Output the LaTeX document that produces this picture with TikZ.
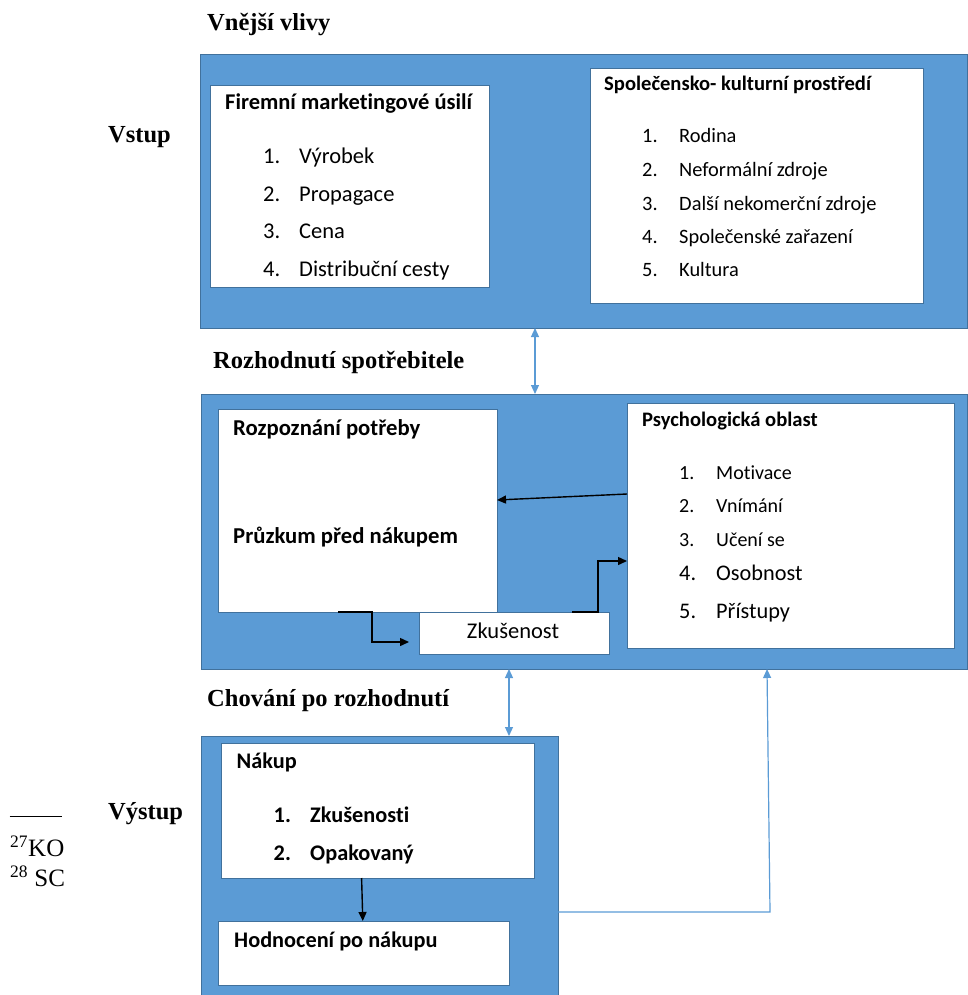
\documentclass[tikz,border=0pt]{standalone}
\usepackage{fontspec}
\setmainfont{Liberation Serif}
\newfontfamily\calfont[Ligatures={NoCommon}]{Carlito}
\usetikzlibrary{arrows.meta}
\definecolor{fillblue}{HTML}{5B9BD5}
\definecolor{edgeblue}{HTML}{41719C}
\definecolor{linkblue}{HTML}{5B9BD5}
\begin{document}
\begin{tikzpicture}[x=1pt,y=-1pt,
  panel/.style={fill=fillblue,draw=edgeblue,line width=1pt,inner sep=0pt,outer sep=0pt,anchor=north west},
  card/.style={fill=white,draw=edgeblue,line width=0.8pt,inner sep=0pt,outer sep=0pt,anchor=north west},
  txt/.style={inner sep=0pt,anchor=base west},
  head/.style={txt,font=\fontsize{24.5}{28}\selectfont\bfseries},
  cb/.style={txt,font=\calfont\bfseries\fontsize{#1}{#1}\selectfont},
  cr/.style={txt,font=\calfont\fontsize{#1}{#1}\selectfont},
  blk/.style={draw=black,line width=1.4pt,-{Triangle[length=9pt,width=8pt]}},
  lnk/.style={draw=linkblue,line width=1.2pt}
]
\useasboundingbox (0,0) rectangle (968,995);

% ---------- panels and cards
\node[panel,minimum width=767pt,minimum height=273pt] (top) at (200,55) {};
\node[card,minimum width=279pt,minimum height=202pt] (firm) at (210,85) {};
\node[card,minimum width=333pt,minimum height=235pt] (soc) at (590,68) {};

\node[panel,minimum width=766pt,minimum height=275pt] (mid) at (201,394) {};
\node[card,minimum width=279pt,minimum height=203pt] (rozp) at (218,409) {};
\node[card,minimum width=190pt,minimum height=42pt] (zk) at (419,612) {};
\node[card,minimum width=327pt,minimum height=245pt] (psy) at (627,403) {};

\node[panel,minimum width=357pt,minimum height=264pt] (bot) at (201,736) {};
\node[card,minimum width=313pt,minimum height=135pt] (nak) at (221,743) {};
\node[card,minimum width=291pt,minimum height=64pt] (hod) at (218,921) {};

% ---------- headings
\node[head] (h1) at (207,31) {Vnější vlivy};
\node[head] (h2) at (108,143) {Vstup};
\node[head] (h3) at (213,368) {Rozhodnutí spotřebitele};
\node[head] (h4) at (207,706) {Chování po rozhodnutí};
\node[head] (h5) at (108,819) {Výstup};

% ---------- Firemní marketingové úsilí
\node[cb=22.5] (ft) at (225,110) {Firemní marketingové úsilí};
\node[cr=22.5] (fn1) at (263,164) {1.};
\node[cr=22.5] (fi1) at (299,164) {Výrobek};
\node[cr=22.5] (fn2) at (263,201) {2.};
\node[cr=22.5] (fi2) at (299,201) {Propagace};
\node[cr=22.5] (fn3) at (263,238) {3.};
\node[cr=22.5] (fi3) at (299,238) {Cena};
\node[cr=22.5] (fn4) at (263,276) {4.};
\node[cr=22.5] (fi4) at (299,276) {Distribuční cesty};

% ---------- Společensko-kulturní prostředí
\node[cb=20.6] (st) at (604,91) {Společensko- kulturní prostředí};
\node[cr=20.4] (sn1) at (642,143) {1.};
\node[cr=20.4] (si1) at (679,143) {Rodina};
\node[cr=20.4] (sn2) at (642,176) {2.};
\node[cr=20.4] (si2) at (679,176) {Neformální zdroje};
\node[cr=20.4] (sn3) at (642,210.5) {3.};
\node[cr=20.4] (si3) at (679,210.5) {Další nekomerční zdroje};
\node[cr=20.4] (sn4) at (642,243.5) {4.};
\node[cr=20.4] (si4) at (679,243.5) {Společenské zařazení};
\node[cr=20.4] (sn5) at (642,276) {5.};
\node[cr=20.4] (si5) at (679,276) {Kultura};

% ---------- Rozpoznání potřeby
\node[cb=22.7] (rt1) at (233,435) {Rozpoznání potřeby};
\node[cb=22.7] (rt2) at (233,543) {Průzkum před nákupem};
\node[cr=22.5,anchor=base] (zt) at (513,638) {Zkušenost};

% ---------- Psychologická oblast
\node[cb=20.6] (pt) at (642,426) {Psychologická oblast};
\node[cr=20] (pn1) at (679,479) {1.};
\node[cr=20] (pi1) at (716,479) {Motivace};
\node[cr=20] (pn2) at (679,512) {2.};
\node[cr=20] (pi2) at (716,512) {Vnímání};
\node[cr=20] (pn3) at (679,546.5) {3.};
\node[cr=20] (pi3) at (716,546.5) {Učení se};
\node[cr=22.3] (pn4) at (679,580) {4.};
\node[cr=22.3] (pi4) at (716,580) {Osobnost};
\node[cr=22.3] (pn5) at (679,618) {5.};
\node[cr=22.3] (pi5) at (716,618) {Přístupy};

% ---------- Nákup / Hodnocení
\node[cb=22.3] (nt) at (236.5,768) {Nákup};
\node[cb=22.3] (nn1) at (273.5,822) {1.};
\node[cb=22.3] (ni1) at (310,822) {Zkušenosti};
\node[cb=22.3] (nn2) at (273.5,860) {2.};
\node[cb=22.3] (ni2) at (310,860) {Opakovaný};
\node[cb=22.3] (ht) at (234,947) {Hodnocení po nákupu};

% ---------- footnote fragment
\draw[line width=1.3pt] (9.6,816.7) coordinate (fl1) -- (62.4,816.7) coordinate (fl2);
\begin{scope}
\clip (0,825) rectangle (63,900);
\node[txt,font=\fontsize{25}{28}\selectfont] (fa) at (10,856.7) {\textsuperscript{27}KO};
\node[txt,font=\fontsize{25}{28}\selectfont] (fb) at (10,886.7) {\textsuperscript{28} SC};
\end{scope}

% ---------- helper coordinates
\coordinate (xa) at (535,0);
\coordinate (xb) at (509,0);
\coordinate (y1) at (0,494);
\coordinate (y2) at (0,500);
\coordinate (x1) at (338,0);
\coordinate (k1) at (372,612);
\coordinate (k2) at (372,642);
\coordinate (e1) at (409,642);
\coordinate (x2) at (572,0);
\coordinate (k3) at (598,612);
\coordinate (k4) at (598,561);
\coordinate (y3) at (0,561);
\coordinate (xn1) at (361.6,0);
\coordinate (xn2) at (362.8,0);
\coordinate (y4) at (0,912);
\coordinate (k5) at (770,912);
\coordinate (xf) at (767,0);

% ---------- connectors
\draw[lnk,{Triangle[length=9pt,width=8pt]}-{Triangle[length=9pt,width=8pt]}] (top.south -| xa) -- (mid.north -| xa);
\draw[lnk,{Triangle[length=9pt,width=8pt]}-{Triangle[length=9pt,width=8pt]}] (mid.south -| xb) -- (bot.north -| xb);
\draw[blk] (psy.west |- y1) -- (rozp.east |- y2);
\draw[blk] (rozp.south -| x1) -- (k1) -- (k2) -- (e1);
\draw[blk] (zk.north -| x2) -- (k3) -- (k4) -- (psy.west |- y3);
\draw[blk] (nak.south -| xn1) -- (hod.north -| xn2);
\draw[lnk,-{Triangle[length=9pt,width=8pt]}] (bot.east |- y4) -- (k5) -- (mid.south -| xf);
\end{tikzpicture}
\end{document}
